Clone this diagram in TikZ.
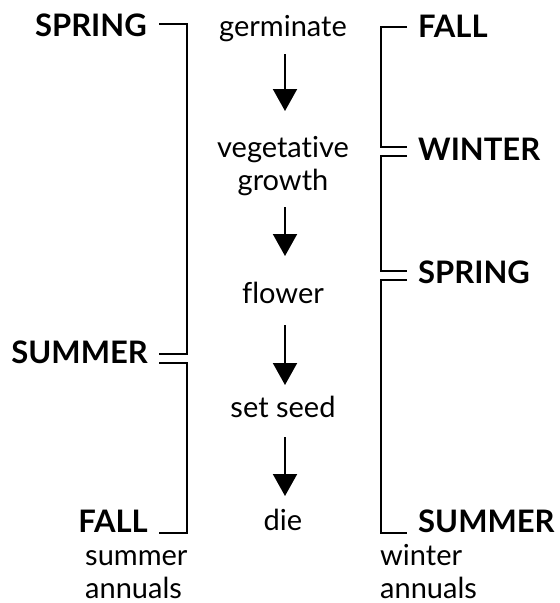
\documentclass[tikz,border=0pt]{standalone}
\usepackage{fontspec}
\setmainfont{Lato}[Ligatures={NoCommon}]
\usetikzlibrary{arrows.meta,calc}
\begin{document}
\begin{tikzpicture}[x=1pt,y=-1pt,
  stage/.style={font=\fontsize{29}{32}\selectfont, inner sep=0pt},
  season/.style={font=\fontsize{31}{34}\selectfont\bfseries, inner sep=0pt},
  brk/.style={line width=2.6pt, line join=miter},
  arr/.style={line width=2pt, -{Triangle[width=24pt,length=22pt]}}]
\useasboundingbox (0,0) rectangle (560,603);
% central stages
\node[stage, anchor=base] (germ) at (283,36) {germinate};
\node[stage, anchor=base] (veg1) at (283,157) {vegetative};
\node[stage, anchor=base] (veg2) at (283,190) {growth};
\node[stage, anchor=base] (flow) at (283,303) {flower};
\node[stage, anchor=base] (seed) at (283,417) {set seed};
\node[stage, anchor=base] (die) at (283,530) {die};
\draw[arr] ($(germ.base)+(2,18)$) -- ($(veg1.base)+(2,-46)$);
\draw[arr] ($(veg2.base)+(2,17)$) -- ($(flow.base)+(2,-47)$);
\draw[arr] ($(flow.base)+(2,22)$) -- ($(seed.base)+(2,-32)$);
\draw[arr] ($(seed.base)+(2,20)$) -- ($(die.base)+(2,-34)$);
% left seasons (summer annuals)
\node[season, anchor=base east] (lspring) at (147,36) {SPRING};
\node[season, anchor=base east] (lsummer) at (148,363) {SUMMER};
\node[season, anchor=base east] (lfall) at (148,532) {FALL};
\node[stage, anchor=base west] (sa1) at (85,565) {summer};
\node[stage, anchor=base west] (sa2) at (85,598) {annuals};
% right seasons (winter annuals)
\node[season, anchor=base west] (rfall) at (418,37) {FALL};
\node[season, anchor=base west] (rwinter) at (418,160) {WINTER};
\node[season, anchor=base west] (rspring) at (418,283) {SPRING};
\node[season, anchor=base west] (rsummer) at (418,532) {SUMMER};
\node[stage, anchor=base west] (wa1) at (380,565) {winter};
\node[stage, anchor=base west] (wa2) at (380,598) {annuals};
% left brackets
\draw[brk] ($(lspring.base east)+(12,-12)$) -- (187,24) -- (187,354) -- ($(lsummer.base east)+(11,-9)$);
\draw[brk] ($(lsummer.base east)+(11,0)$) -- (187,363) -- (187,533) -- ($(lfall.base east)+(11,1)$);
% right brackets
\draw[brk] ($(rfall.base west)+(-11,-10)$) -- (381,27) -- (381,147) -- ($(rwinter.base west)+(-11,-13)$);
\draw[brk] ($(rwinter.base west)+(-11,-4)$) -- (381,156) -- (381,271) -- ($(rspring.base west)+(-11,-12)$);
\draw[brk] ($(rspring.base west)+(-11,-3)$) -- (381,280) -- (381,533) -- ($(rsummer.base west)+(-11,1)$);
\end{tikzpicture}
\end{document}
